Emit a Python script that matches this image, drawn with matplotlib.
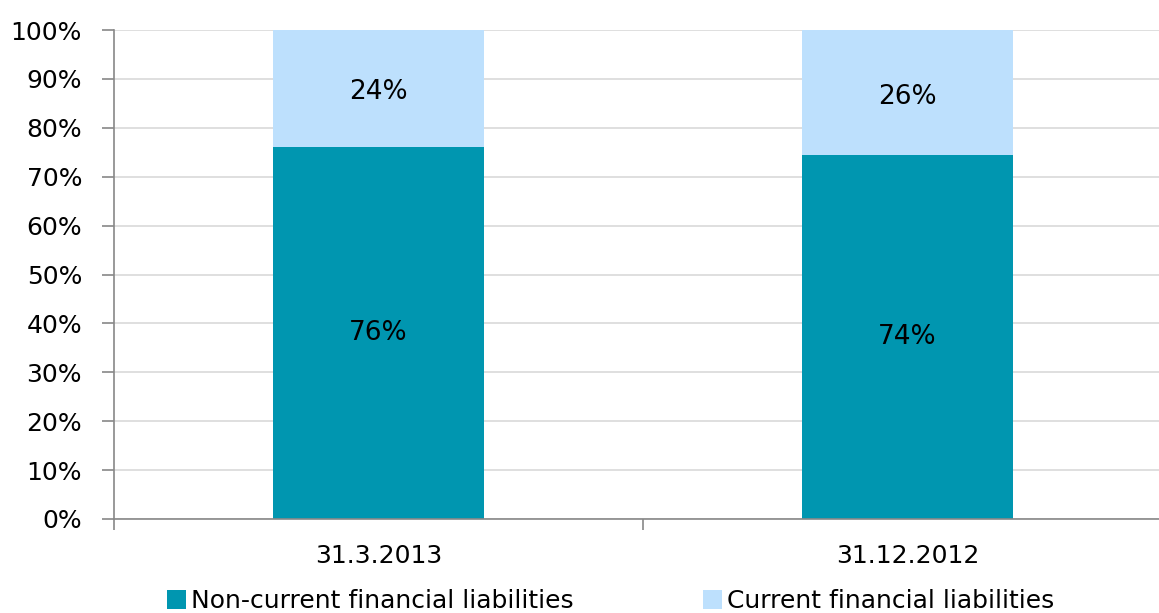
import matplotlib
matplotlib.use('Agg')
import matplotlib.pyplot as plt
from matplotlib.ticker import PercentFormatter, FixedLocator

categories = ['31.3.2013', '31.12.2012']
non_current = [76.1, 74.4]
current = [23.9, 25.6]
non_current_labels = ['76%', '74%']
current_labels = ['24%', '26%']

COLOR_NC = '#0096B0'
COLOR_C = '#BDE0FD'
FS = 18

plt.rcParams['font.family'] = ['DejaVu Sans']

fig = plt.figure(figsize=(11.59, 6.13), dpi=100)
# the category axis runs past the right edge of the image, as in the original
ax = fig.add_axes([114 / 1159, 94 / 613, 1058 / 1159, 489 / 613])

x = list(range(len(categories)))
width = 0.40
ax.bar(x, non_current, width, color=COLOR_NC, label='Non-current financial liabilities', zorder=2)
ax.bar(x, current, width, bottom=non_current, color=COLOR_C, label='Current financial liabilities', zorder=2)

for i in x:
    ax.text(i, non_current[i] / 2, non_current_labels[i], ha='center', va='center', fontsize=19)
    ax.text(i, non_current[i] + current[i] / 2 - 0.8, current_labels[i], ha='center', va='center', fontsize=19)

ax.set_xlim(-0.5, len(categories) - 0.5)
ax.set_ylim(0, 100)
ax.set_yticks(range(0, 101, 10))
ax.yaxis.set_major_formatter(PercentFormatter(decimals=0))
ax.grid(axis='y', color='#D9D9D9', linewidth=1.2, zorder=0)

# category labels without ticks, ticks at boundaries
ax.set_xticks(x)
ax.set_xticklabels(categories, fontsize=FS)
ax.tick_params(axis='x', length=0, pad=18)
ax.xaxis.set_minor_locator(FixedLocator([-0.5, 0.5, 1.5]))
ax.tick_params(axis='x', which='minor', length=8, color='#888888', width=1.2)
ax.tick_params(axis='y', length=9, color='#888888', width=1.2, labelsize=FS, pad=14)

for side in ['top', 'right']:
    ax.spines[side].set_visible(False)
for side in ['left', 'bottom']:
    ax.spines[side].set_color('#888888')
    ax.spines[side].set_linewidth(1.2)

fig.legend(loc='lower center', bbox_to_anchor=(0.527, -0.037), ncol=2, frameon=False,
           fontsize=FS, handlelength=0.75, handleheight=0.75, handletextpad=0.2,
           columnspacing=5.2)

plt.savefig('out.png', dpi=100)
plt.close()
